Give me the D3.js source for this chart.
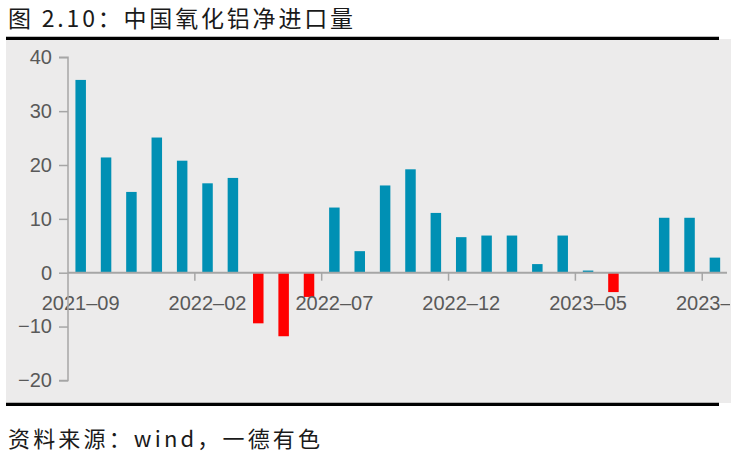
<!DOCTYPE html>
<html>
<head>
<meta charset="utf-8">
<script src="https://cdn.jsdelivr.net/npm/d3@7/dist/d3.min.js"></script>
<style>
  body { margin: 0; background: #fff; }
  svg { display: block; }
</style>
</head>
<body>
<svg id="chart" width="737" height="459"></svg>
<script>
// monthly net import (10k t), 2021-09 .. 2023-10
var months = ["2021-09","2021-10","2021-11","2021-12","2022-01","2022-02","2022-03",
  "2022-04","2022-05","2022-06","2022-07","2022-08","2022-09","2022-10","2022-11",
  "2022-12","2023-01","2023-02","2023-03","2023-04","2023-05","2023-06","2023-07",
  "2023-08","2023-09","2023-10"];
var netImport = [35.8, 21.4, 15.0, 25.1, 20.8, 16.6, 17.6,
  -9.4, -11.8, -4.5, 12.1, 4.0, 16.2, 19.2, 11.1,
  6.6, 6.9, 6.9, 1.6, 6.9, 0.4, -3.6, 0,
  10.2, 10.2, 2.8];
var yTicks = [-20, -10, 0, 10, 20, 30, 40];
var xLabels = ["2021-09","2022-02","2022-07","2022-12","2023-05","2023-10"];

var svg = d3.select("#chart");

// panel background
svg.append("rect")
  .attr("x", 6).attr("y", 39).attr("width", 725).attr("height", 364)
  .attr("fill", "#ECEBEB");

svg.append("clipPath").attr("id", "panel")
  .append("rect").attr("x", 6).attr("y", 39).attr("width", 724).attr("height", 364);

// top / bottom rules
svg.append("line").attr("x1", 6).attr("x2", 719).attr("y1", 38.4).attr("y2", 38.4)
  .attr("stroke", "#000").attr("stroke-width", 3.3);
svg.append("line").attr("x1", 6).attr("x2", 719).attr("y1", 404.3).attr("y2", 404.3)
  .attr("stroke", "#000").attr("stroke-width", 3.3);

// title + source
svg.append("text")
  .attr("x", 8).attr("y", 27)
  .attr("textLength", 345).attr("lengthAdjust", "spacing")
  .style("font-family", "'Noto Sans CJK SC', sans-serif")
  .style("font-size", "23px").attr("fill", "#1a1a1a")
  .text("图 2.10：中国氧化铝净进口量");

svg.append("text")
  .attr("x", 8).attr("y", 447)
  .attr("textLength", 312).attr("lengthAdjust", "spacing")
  .style("font-family", "'Noto Sans CJK SC', sans-serif")
  .style("font-size", "22px").attr("fill", "#1a1a1a")
  .text("资料来源：wind，一德有色");

var xScale = d3.scaleBand().domain(months).range([68, 727.6]).paddingInner(0.6).paddingOuter(0.3);
var yScale = d3.scaleLinear().domain([-20, 40]).range([380.4, 57.3]);

var g = svg.append("g").attr("clip-path", "url(#panel)");

var step = xScale.step();
var x0 = 68;

// bars
g.selectAll(".bar")
  .data(netImport)
  .enter().append("rect")
  .attr("class", "bar")
  .attr("x", function(d, i) { return x0 + i * step + (step - 10.5) / 2; })
  .attr("width", 10.5)
  .attr("y", function(d) { return yScale(Math.max(d, 0)); })
  .attr("height", function(d) { return Math.abs(yScale(d) - yScale(0)); })
  .attr("fill", function(d) { return d < 0 ? "#FF0000" : "#0090B4"; });

// zero line
g.append("line")
  .attr("x1", x0).attr("x2", 727)
  .attr("y1", yScale(0)).attr("y2", yScale(0))
  .attr("stroke", "#A6A6A6").attr("stroke-width", 2);

// category tick marks every 5 months
var tickIdx = [5, 10, 15, 20, 25];
g.selectAll(".xtick")
  .data(tickIdx)
  .enter().append("line")
  .attr("x1", function(d) { return x0 + d * step; })
  .attr("x2", function(d) { return x0 + d * step; })
  .attr("y1", yScale(0)).attr("y2", yScale(0) + 8)
  .attr("stroke", "#A6A6A6").attr("stroke-width", 1.5);

// x labels
g.selectAll(".xlabel")
  .data(xLabels)
  .enter().append("text")
  .attr("x", function(d) { return x0 + months.indexOf(d) * step + step / 2; })
  .attr("y", 310)
  .attr("text-anchor", "middle")
  .style("font-family", "'Liberation Sans', Arial, sans-serif")
  .style("font-size", "20px").attr("fill", "#595959")
  .text(function(d) { return d.replace("-", "–"); });

// y axis
var yAxis = svg.append("g")
  .attr("transform", "translate(68,0)")
  .call(d3.axisLeft(yScale).tickValues(yTicks).tickSize(9).tickPadding(7)
    .tickFormat(function(d) { return d < 0 ? "−" + Math.abs(d) : d; }));
yAxis.select(".domain").attr("stroke", "#A6A6A6").attr("stroke-width", 1.5)
  .attr("d", "M-9," + yScale(40) + "H0V" + yScale(-20) + "H-9");
yAxis.selectAll(".tick line").attr("stroke", "#A6A6A6").attr("stroke-width", 1.5);
yAxis.selectAll(".tick text")
  .style("font-family", "'Liberation Sans', Arial, sans-serif")
  .style("font-size", "20px").attr("fill", "#595959");
</script>
</body>
</html>
